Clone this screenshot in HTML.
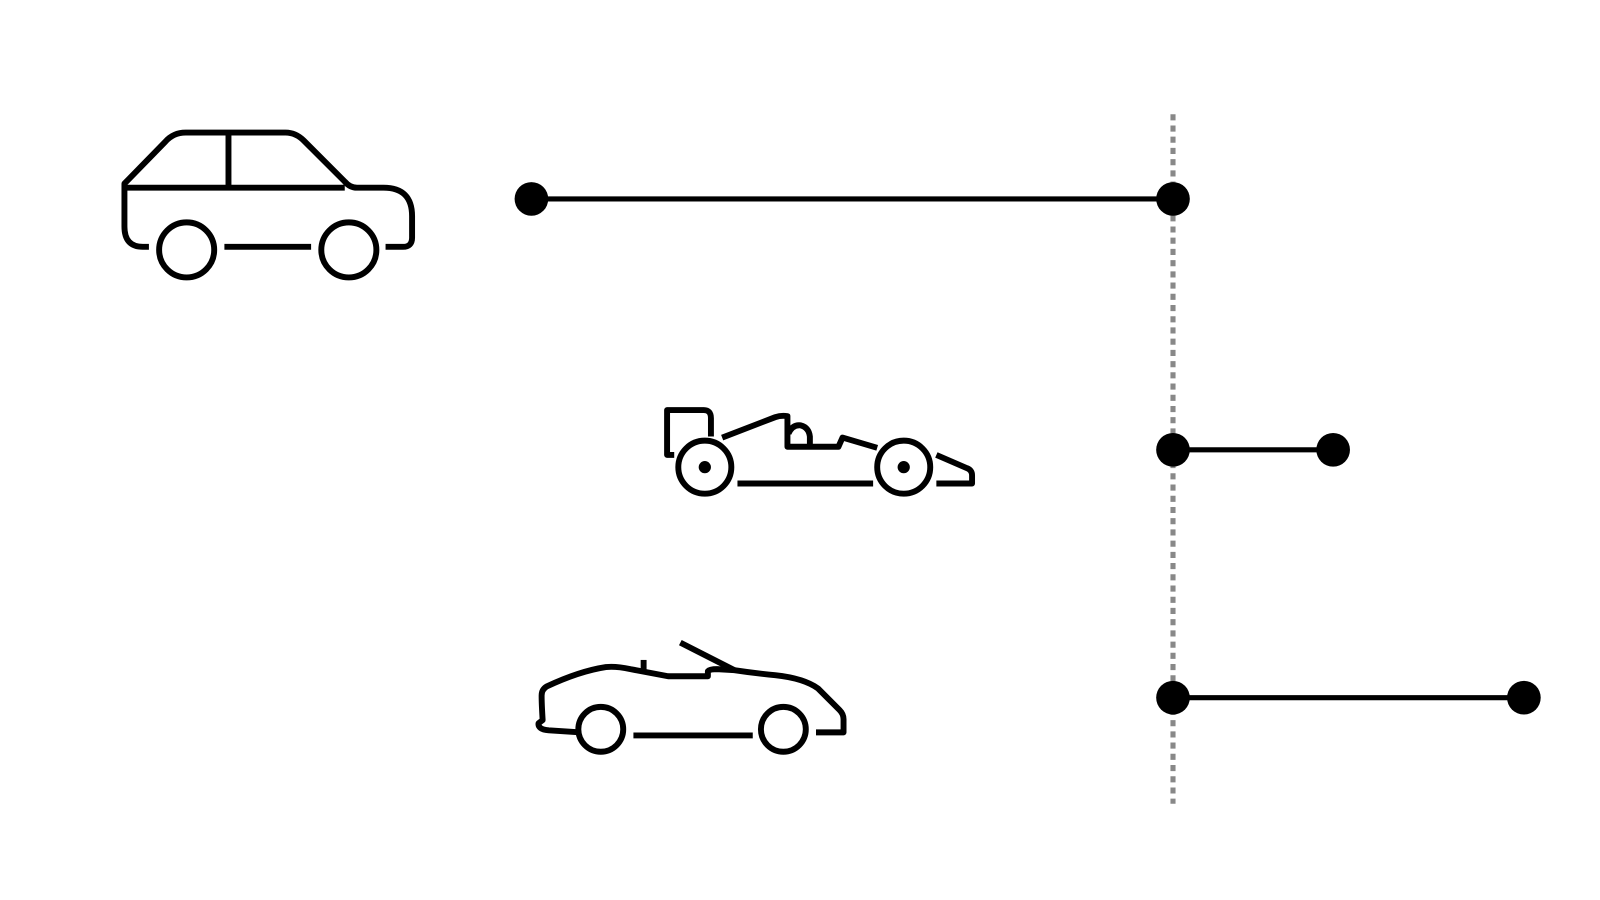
<!DOCTYPE html>
<html><head><style>html,body{margin:0;padding:0;background:#fff;width:1600px;height:900px;overflow:hidden}</style></head>
<body>
<svg width="1600" height="900" viewBox="0 0 1600 900" xmlns="http://www.w3.org/2000/svg">
<g transform="scale(1.02)">
<g fill="none" stroke="#000" stroke-width="5.8" stroke-linejoin="round">
<path d="M146 242 H140 Q122 242 122 222 V180 L162 139 Q170 130 182 130 H280 Q290 130 298 138 L338 178 Q343 184 350 184 H376 Q404 184 404 212 V233 Q404 242 395 242 H378"/>
<path d="M122 184 H338"/>
<path d="M224 130 V182"/>
<path d="M220 242 H305"/>
<circle cx="183" cy="245" r="27"/>
<circle cx="342" cy="245" r="27"/>
<path d="M661 446 H654 V402 H690 Q697 402 697 410 V428"/>
<path d="M708 429 L760 409 Q766 407 772 408 V438 H822 L826 429 L860 439"/>
<path d="M773 425 Q777 416 785 417 Q793 419 794 428 V438"/>
<path d="M723 474 H856"/>
<path d="M918 446 L948 459 Q953 461 953 466 V474 H918"/>
<circle cx="691" cy="458" r="26"/>
<circle cx="886" cy="458" r="26"/>
<path d="M568 718 L538 716 Q527 715 528 709 L532 706 Q531 690 531 682 Q531 676 536 673 Q568 658 594 654 Q604 653 618 656 L655 663 H694 V658 Q696 656 703 656 L720 657 Q740 660 760 662 Q788 665 802 675 L823 696 Q827 700 827 705 V718 H800"/>
<path d="M621 721 H738"/>
<path d="M667 630 L720 657"/>
<path d="M631 647 V657"/>
<circle cx="589" cy="715" r="22"/>
<circle cx="768" cy="715" r="22"/>
</g>
<circle cx="691" cy="458" r="6"/>
<circle cx="886" cy="458" r="6"/>
<line x1="1150" y1="112" x2="1150" y2="788" stroke="#888" stroke-width="5" stroke-dasharray="6,5"/>
<g stroke="#000" stroke-width="5">
<line x1="521" y1="195" x2="1150" y2="195"/>
<line x1="1150" y1="441" x2="1307" y2="441"/>
<line x1="1150" y1="684" x2="1494" y2="684"/>
</g>
<g fill="#000">
<circle cx="521" cy="195" r="16.5"/><circle cx="1150" cy="195" r="16.5"/>
<circle cx="1150" cy="441" r="16.5"/><circle cx="1307" cy="441" r="16.5"/>
<circle cx="1150" cy="684" r="16.5"/><circle cx="1494" cy="684" r="16.5"/>
</g>
</g>
</svg>
</body></html>
